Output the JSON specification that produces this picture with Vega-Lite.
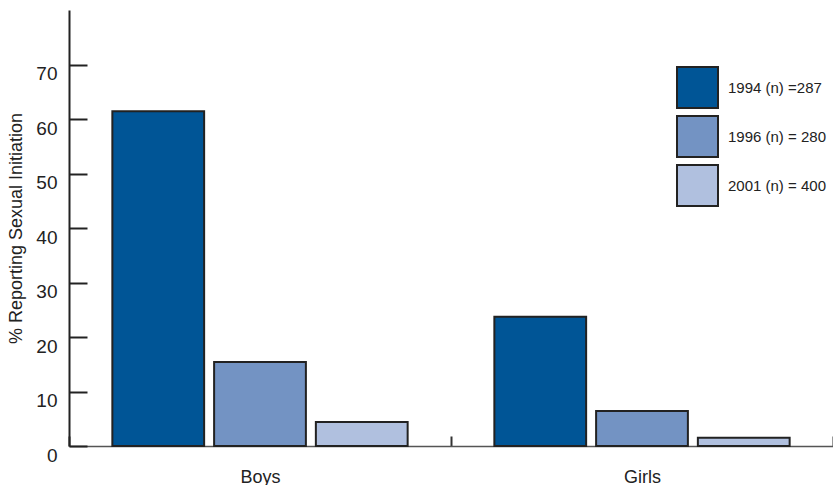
{
  "$schema": "https://vega.github.io/schema/vega-lite/v6.json",
  "width": 764,
  "height": 436,
  "autosize": {"type": "none"},
  "padding": {"left": 69, "top": 10, "right": 0, "bottom": 39},
  "background": "white",
  "config": {
    "view": {"stroke": null},
    "font": "Liberation Sans",
    "axis": {"labelFont": "Liberation Sans", "titleFont": "Liberation Sans", "labelColor": "#222", "titleColor": "#222"}
  },
  "data": {
    "values": [
      {"sex": "Boys", "year": "1994 (n) =287", "pct": 61.4},
      {"sex": "Boys", "year": "1996 (n) = 280", "pct": 15.4},
      {"sex": "Boys", "year": "2001 (n) = 400", "pct": 4.4},
      {"sex": "Girls", "year": "1994 (n) =287", "pct": 23.7},
      {"sex": "Girls", "year": "1996 (n) = 280", "pct": 6.4},
      {"sex": "Girls", "year": "2001 (n) = 400", "pct": 1.5}
    ]
  },
  "mark": {"type": "bar", "stroke": "#222", "strokeWidth": 2},
  "encoding": {
    "x": {
      "field": "sex", "type": "nominal",
      "scale": {"paddingInner": 0, "paddingOuter": 0},
      "axis": {
        "title": null, "labelAngle": 0, "labelFontSize": 18, "labelPadding": 32,
        "tickBand": "extent", "tickSize": -10, "tickColor": "#333", "tickWidth": 2,
        "domainColor": "#555", "domainWidth": 1.5
      }
    },
    "xOffset": {
      "field": "year", "type": "nominal",
      "scale": {"paddingInner": 0.098, "paddingOuter": 0.426}
    },
    "y": {
      "field": "pct", "type": "quantitative",
      "scale": {"domain": [0, 80], "nice": false},
      "axis": {
        "title": "% Reporting Sexual Initiation", "titleFontSize": 18, "titleFontWeight": "normal",
        "values": [0, 10, 20, 30, 40, 50, 60, 70],
        "labelFontSize": 19, "labelPadding": 30, "labelOffset": 9,
        "tickSize": -18, "tickColor": "#222", "tickWidth": 2,
        "domainColor": "#222", "domainWidth": 2, "grid": false,
        "titlePadding": 10
      }
    },
    "color": {
      "field": "year", "type": "nominal",
      "scale": {"range": ["#005596", "#7393C3", "#B0C0DF"]},
      "legend": {
        "title": null, "orient": "none", "legendX": 607, "legendY": 56,
        "symbolType": "square", "symbolSize": 1681, "symbolStrokeColor": "#222", "symbolStrokeWidth": 2,
        "symbolOpacity": 1, "labelFontSize": 15, "labelColor": "#222", "labelOffset": 9, "rowPadding": 0,
        "labelFont": "Liberation Sans"
      }
    }
  }
}
